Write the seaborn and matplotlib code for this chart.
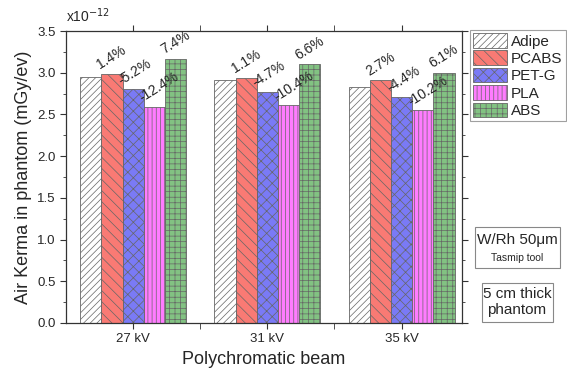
import matplotlib
matplotlib.use('Agg')
import matplotlib.pyplot as plt
import numpy as np
import pandas as pd
import seaborn as sns

# data (units of 1e-12 mGy/ev)
beams = ['27 kV', '31 kV', '35 kV']
materials = ['Adipe', 'PCABS', 'PET-G', 'PLA', 'ABS']
adipe = [2.95, 2.91, 2.83]
pcabs = [2.99, 2.94, 2.91]
petg = [2.80, 2.77, 2.71]
pla = [2.59, 2.61, 2.55]
abs_ = [3.17, 3.10, 3.00]
pct_pcabs = ['1.4%', '1.1%', '2.7%']
pct_petg = ['-5.2%', '-4.7%', '-4.4%']
pct_pla = ['-12.4%', '-10.4%', '-10.2%']
pct_abs = ['7.4%', '6.6%', '6.1%']

colors = ['#FFFFFF', '#F97A74', '#7A7AF6', '#FF7CFF', '#82C282']
hatches = ['/////', '\\\\\\', 'xxx', '||||', '+++']

rows = []
for m, vals in zip(materials, [adipe, pcabs, petg, pla, abs_]):
    for b, v in zip(beams, vals):
        rows.append({'beam': b, 'material': m, 'kerma': v})
df = pd.DataFrame(rows)

sns.set_style('ticks')
plt.rcParams['font.family'] = ['Liberation Sans', 'DejaVu Sans']
plt.rcParams['hatch.linewidth'] = 0.5

fig = plt.figure(figsize=(5.67, 3.79), dpi=100)
ax = fig.add_axes([0.1164, 0.1478, 0.6984, 0.7702])

sns.barplot(data=df, x='beam', y='kerma', hue='material', hue_order=materials,
            palette=colors, saturation=1, width=0.79, edgecolor='#666666',
            linewidth=0.6, legend=False, ax=ax)

for cont, h in zip(ax.containers, hatches):
    for p in cont.patches:
        p.set_hatch(h)

pcts = [None, pct_pcabs, pct_petg, pct_pla, pct_abs]
for cont, labs in zip(ax.containers, pcts):
    if labs is None:
        continue
    for p, lab in zip(cont.patches, labs):
        ax.annotate(lab, (p.get_x(), p.get_height()), xytext=(0.5, 1.5),
                    textcoords='offset points', rotation=32,
                    rotation_mode='anchor', ha='left', va='bottom',
                    fontsize=10, zorder=10)

ax.set_ylim(0, 3.5)
ax.set_xlim(-0.5, 2.45)
ax.set_yticks(np.arange(0, 3.51, 0.5))
ax.set_yticks(np.arange(0.25, 3.5, 0.5), minor=True)
ax.set_yticklabels(['%.1f' % v for v in np.arange(0, 3.51, 0.5)])
ax.set_xticks([0.5, 1.5], minor=True)
ax.tick_params(axis='both', which='both', direction='out', labelsize=9.5, color='#333333')
ax.tick_params(which='major', length=4)
ax.tick_params(which='minor', length=2.5)
ax.tick_params(axis='x', which='minor', length=4)
ax.tick_params(top=True, right=True, which='both')
for s in ax.spines.values():
    s.set_visible(True)
    s.set_color('#333333')
    s.set_linewidth(0.9)

ax.set_xlabel('Polychromatic beam', fontsize=13)
ax.set_ylabel('Air Kerma in phantom (mGy/ev)', fontsize=13)
ax.text(0.0, 1.02, r'x10$^{-12}$', transform=ax.transAxes, fontsize=10,
        ha='left', va='bottom')

handles = [cont.patches[0] for cont in ax.containers]
leg = fig.legend(handles, materials, loc='upper left',
                 bbox_to_anchor=(470 / 567, 1 - 30 / 379), fontsize=11,
                 frameon=True, fancybox=False, edgecolor='#888888',
                 handlelength=2.2, handleheight=1.1, handletextpad=0.3,
                 labelspacing=0.12, borderpad=0.2, borderaxespad=0)
leg.get_frame().set_linewidth(0.8)

fig.text(517 / 567, 1 - 240 / 379, 'W/Rh 50\u03bcm', ha='center', va='center', fontsize=11)
fig.text(517 / 567, 1 - 258 / 379, 'Tasmip tool', ha='center', va='center', fontsize=7.5)
fig.patches.append(plt.Rectangle((475 / 567, 1 - 268 / 379), 85 / 567, 41 / 379,
                                 transform=fig.transFigure, fill=False,
                                 edgecolor='#888888', linewidth=0.8))
fig.text(517 / 567, 1 - 302 / 379, '5 cm thick\nphantom', ha='center', va='center',
         fontsize=11, linespacing=1.15)
fig.patches.append(plt.Rectangle((482 / 567, 1 - 322 / 379), 71 / 567, 39 / 379,
                                 transform=fig.transFigure, fill=False,
                                 edgecolor='#888888', linewidth=0.8))

fig.savefig('out.png', dpi=100)
